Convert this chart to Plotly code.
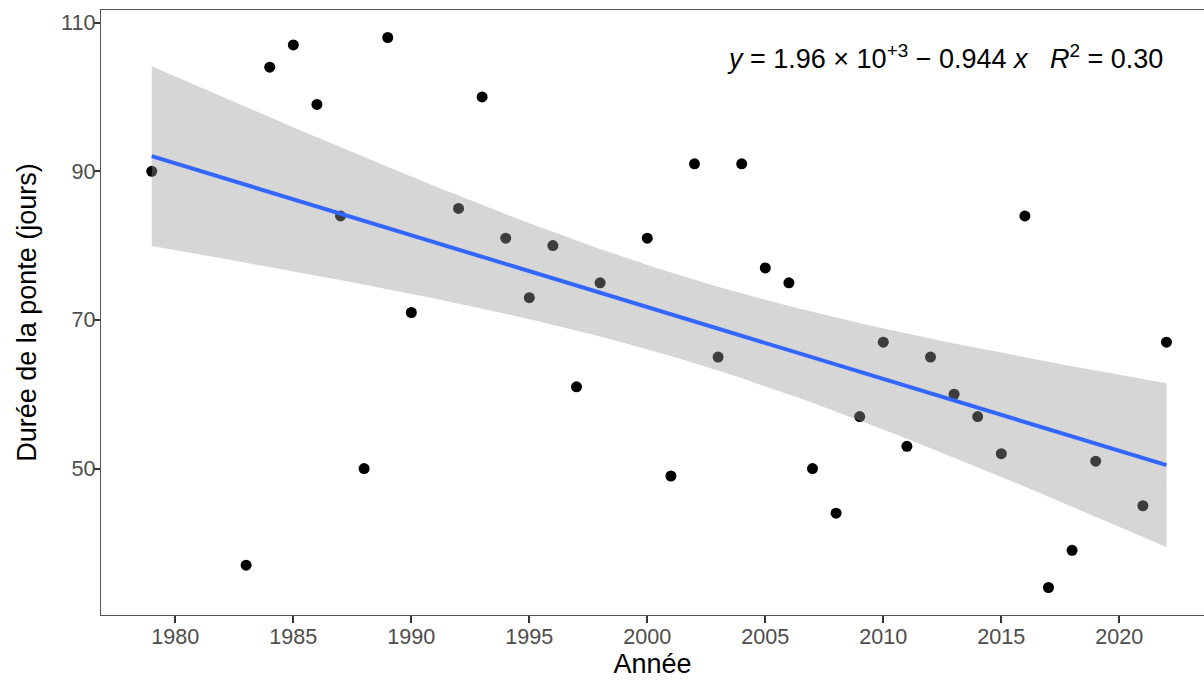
import numpy as np
import plotly.graph_objects as go

years = [1979, 1983, 1984, 1985, 1986, 1987, 1988, 1989, 1990, 1992, 1993, 1994,
         1995, 1996, 1997, 1998, 2000, 2001, 2002, 2003, 2004, 2005, 2006, 2007,
         2008, 2009, 2010, 2011, 2012, 2013, 2014, 2015, 2016, 2017, 2018, 2019,
         2021, 2022]
durations = [90, 37, 104, 107, 99, 84, 50, 108, 71, 85, 100, 81,
             73, 80, 61, 75, 81, 49, 91, 65, 91, 77, 75, 50,
             44, 57, 67, 53, 65, 60, 57, 52, 84, 34, 39, 51,
             45, 67]
x_ticks = [1980, 1985, 1990, 1995, 2000, 2005, 2010, 2015, 2020]
y_ticks = [50, 70, 90, 110]
eq_label = "<i>y</i> = 1.96 × 10<sup>+3</sup> − 0.944 <i>x</i>\u00a0\u00a0\u00a0<i>R</i><sup>2</sup> = 0.30"
x_title = "Année"
y_title = "Durée de la ponte (jours)"

# linear model with 95% confidence band (as geom_smooth(method = "lm"))
x = np.array(years, dtype=float)
y = np.array(durations, dtype=float)
n = len(x)
slope, intercept = np.polyfit(x, y, 1)
resid = y - (intercept + slope * x)
s = np.sqrt(np.sum(resid ** 2) / (n - 2))
sxx = np.sum((x - x.mean()) ** 2)
t_crit = 2.0281  # t(0.975, df=36)
xs = np.linspace(x.min(), x.max(), 80)
fit = intercept + slope * xs
se = s * np.sqrt(1.0 / n + (xs - x.mean()) ** 2 / sxx)
upper = fit + t_crit * se
lower = fit - t_crit * se

FONT = "Liberation Sans, Arial, sans-serif"

fig = go.Figure()
fig.add_trace(go.Scatter(x=years, y=durations, mode="markers",
                         marker=dict(color="black", size=11, line=dict(width=0)),
                         showlegend=False, hoverinfo="skip"))
fig.add_trace(go.Scatter(x=np.concatenate([xs, xs[::-1]]),
                         y=np.concatenate([upper, lower[::-1]]),
                         mode="lines", fill="toself", fillcolor="rgba(153,153,153,0.4)",
                         line=dict(width=0), showlegend=False, hoverinfo="skip"))
fig.add_trace(go.Scatter(x=xs, y=fit, mode="lines",
                         line=dict(color="#3366FF", width=4),
                         showlegend=False, hoverinfo="skip"))

fig.add_annotation(text=eq_label, xref="paper", yref="paper", x=0.9647, y=0.922,
                   xanchor="right", yanchor="middle", showarrow=False,
                   font=dict(family=FONT, size=27, color="black"))

axis_common = dict(showgrid=False, zeroline=False, showline=True, linecolor="#555555",
                   linewidth=1.3, ticks="outside", ticklen=7, tickwidth=2, tickcolor="#333333",
                   automargin=False,
                   tickfont=dict(family=FONT, size=21.6, color="#4D4D4D"))

fig.update_layout(
    width=1204, height=682,
    margin=dict(l=101, r=0, t=10, b=67),
    paper_bgcolor="white", plot_bgcolor="white",
    xaxis=dict(range=[1976.85, 2023.59], tickvals=x_ticks, mirror=True,
               ticklabelstandoff=-5,
               title=dict(text=x_title, standoff=5,
                          font=dict(family=FONT, size=27, color="black")),
               **axis_common),
    yaxis=dict(range=[30.3, 111.7], tickvals=y_ticks, mirror=False,
               ticklabelstandoff=-7,
               title=dict(text=y_title, standoff=16,
                          font=dict(family=FONT, size=27, color="black")),
               **axis_common),
)

fig.write_html("out.html", config={"displayModeBar": False},
               post_script="document.body.style.margin='0';document.body.style.overflow='hidden';")
